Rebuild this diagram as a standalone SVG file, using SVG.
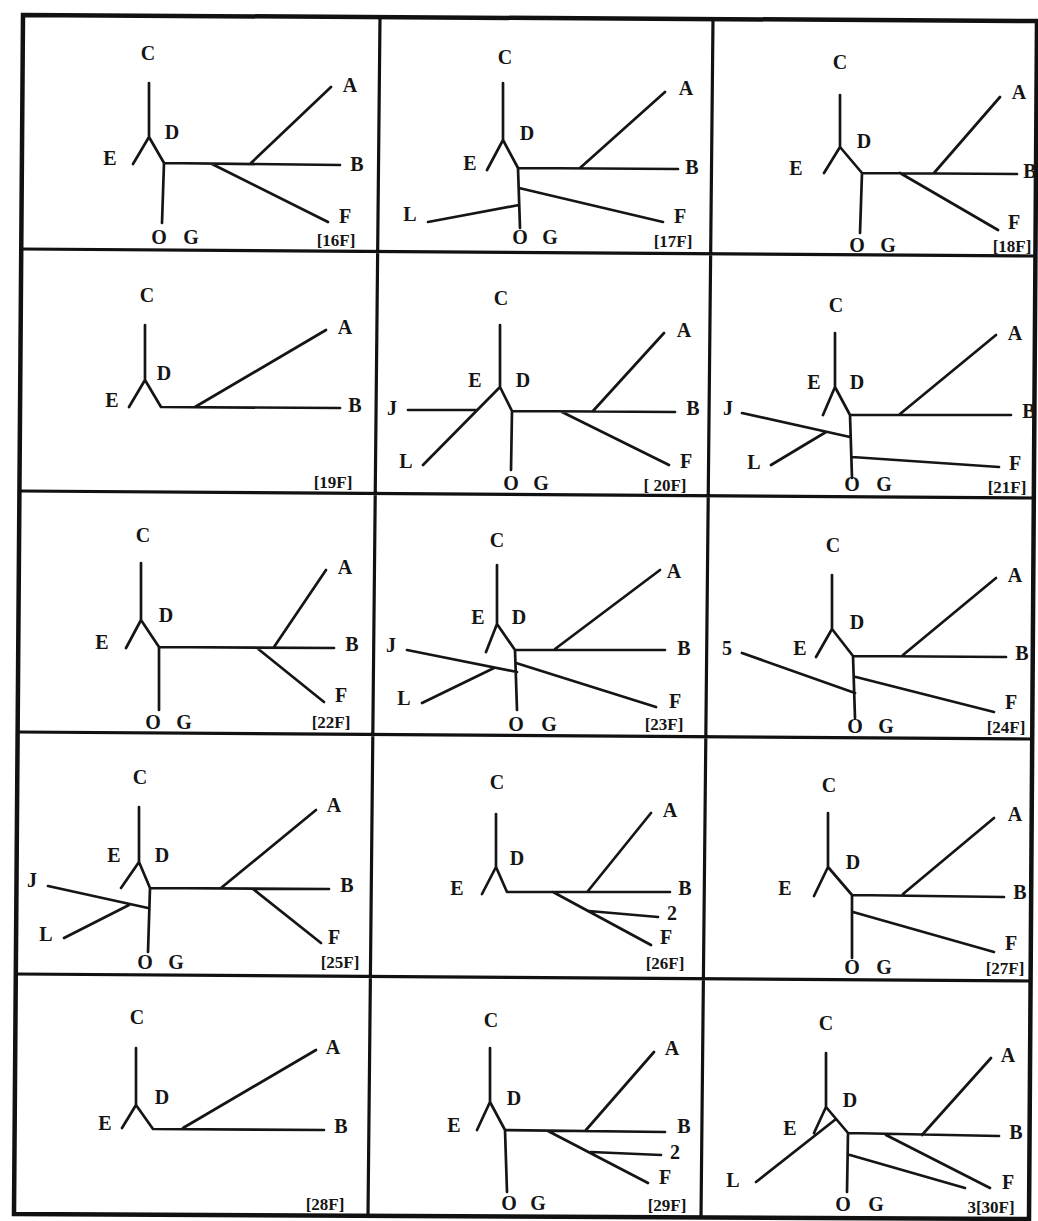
<svg xmlns="http://www.w3.org/2000/svg" width="1038" height="1221" viewBox="0 0 1038 1221">
<style>
.frame{fill:none;stroke:#111;stroke-width:3.2}
.outer{fill:none;stroke:#111;stroke-width:4.5;stroke-linejoin:miter}
.e{fill:none;stroke:#151515;stroke-width:2.7;stroke-linecap:round;stroke-linejoin:round}
text{font-family:"Liberation Serif","Times New Roman",serif;font-weight:bold;font-size:20px;fill:#151515;text-anchor:middle}
.n{font-size:17px}
</style>
<rect width="1038" height="1221" fill="#fff"/>
<g id="grid">
<path class="outer" d="M23,15 L1037,21 L1029,1219 L14,1214 Z"/>
<path class="frame" d="M380,17 L368,1216 M713,19 L701,1218 M22,249 L1036,256 M20,491 L1034,498 M18,732 L1032,739 M16,974 L1031,981"/>
</g>

<!-- 16F -->
<g id="panel16F">
<g id="edges16F"><path class="e" d="M149,83 V137 L133,164 M149,137 L164,163 L340,165 M250,164 L331,87 M212,164 L328,222 M164,163 L162,223"/></g>
<g id="n16C"><text x="148" y="60">C</text></g>
<g id="n16D"><text x="172" y="139">D</text></g>
<g id="n16E"><text x="110" y="165">E</text></g>
<g id="n16A"><text x="350" y="92">A</text></g>
<g id="n16B"><text x="357" y="171">B</text></g>
<g id="n16F"><text x="345" y="223">F</text></g>
<g id="n16O"><text x="159" y="244">O</text></g>
<g id="n16G"><text x="191" y="244">G</text></g>
<g id="l16F"><text class="n" x="336" y="246">[16F]</text></g>
</g>

<!-- 17F -->
<g id="panel17F">
<g id="edges17F"><path class="e" d="M503,83 V140 L487,170 M503,140 L518,168 L678,169 M580,168 L665,92 M518,168 L520,228 M519,188 L663,222 M519,205 L428,222"/></g>
<g id="n17C"><text x="505" y="64">C</text></g>
<g id="n17D"><text x="527" y="140">D</text></g>
<g id="n17E"><text x="470" y="170">E</text></g>
<g id="n17A"><text x="686" y="95">A</text></g>
<g id="n17B"><text x="692" y="174">B</text></g>
<g id="n17F"><text x="680" y="223">F</text></g>
<g id="n17L"><text x="410" y="221">L</text></g>
<g id="n17O"><text x="520" y="244">O</text></g>
<g id="n17G"><text x="550" y="244">G</text></g>
<g id="l17F"><text class="n" x="673" y="247">[17F]</text></g>
</g>

<!-- 18F -->
<g id="panel18F">
<g id="edges18F"><path class="e" d="M840,95 V147 L824,173 M840,147 L862,173 L1017,174 M934,173 L1000,97 M900,173 L998,230 M862,173 L860,233"/></g>
<g id="n18C"><text x="840" y="69">C</text></g>
<g id="n18D"><text x="864" y="148">D</text></g>
<g id="n18E"><text x="796" y="175">E</text></g>
<g id="n18A"><text x="1019" y="99">A</text></g>
<g id="n18B"><text x="1030" y="178">B</text></g>
<g id="n18F"><text x="1014" y="229">F</text></g>
<g id="n18O"><text x="857" y="252">O</text></g>
<g id="n18G"><text x="888" y="252">G</text></g>
<g id="l18F"><text class="n" x="1012" y="252">[18F]</text></g>
</g>

<!-- 19F -->
<g id="panel19F">
<g id="edges19F"><path class="e" d="M145,325 V380 L129,407 M145,380 L161,407 L340,408 M195,407 L326,330"/></g>
<g id="n19C"><text x="147" y="302">C</text></g>
<g id="n19D"><text x="164" y="380">D</text></g>
<g id="n19E"><text x="112" y="407">E</text></g>
<g id="n19A"><text x="345" y="334">A</text></g>
<g id="n19B"><text x="355" y="412">B</text></g>
<g id="l19F"><text class="n" x="333" y="488">[19F]</text></g>
</g>

<!-- 20F -->
<g id="panel20F">
<g id="edges20F"><path class="e" d="M500,325 V387 L423,465 M408,410 L477,410 M500,387 L512,411 L675,412 M593,411 L664,333 M562,412 L669,465 M512,411 L511,470"/></g>
<g id="n20C"><text x="501" y="305">C</text></g>
<g id="n20E"><text x="475" y="387">E</text></g>
<g id="n20D"><text x="523" y="387">D</text></g>
<g id="n20J"><text x="392" y="415">J</text></g>
<g id="n20L"><text x="406" y="468">L</text></g>
<g id="n20A"><text x="684" y="337">A</text></g>
<g id="n20B"><text x="693" y="415">B</text></g>
<g id="n20F"><text x="686" y="468">F</text></g>
<g id="n20O"><text x="511" y="490">O</text></g>
<g id="n20G"><text x="541" y="490">G</text></g>
<g id="l20F"><text class="n" x="665" y="491">[ 20F]</text></g>
</g>

<!-- 21F -->
<g id="panel21F">
<g id="edges21F"><path class="e" d="M835,333 V387 L823,415 M835,387 L850,415 L1011,415 M900,414 L996,335 M850,415 L852,478 M742,413 L850,437 M771,465 L826,432 M852,457 L999,467"/></g>
<g id="n21C"><text x="836" y="312">C</text></g>
<g id="n21E"><text x="814" y="389">E</text></g>
<g id="n21D"><text x="857" y="389">D</text></g>
<g id="n21J"><text x="728" y="415">J</text></g>
<g id="n21L"><text x="754" y="469">L</text></g>
<g id="n21A"><text x="1015" y="340">A</text></g>
<g id="n21B"><text x="1029" y="418">B</text></g>
<g id="n21F"><text x="1015" y="470">F</text></g>
<g id="n21O"><text x="852" y="491">O</text></g>
<g id="n21G"><text x="884" y="491">G</text></g>
<g id="l21F"><text class="n" x="1007" y="493">[21F]</text></g>
</g>

<!-- 22F -->
<g id="panel22F">
<g id="edges22F"><path class="e" d="M141,563 V620 L126,648 M141,620 L159,647 L334,648 M274,647 L326,570 M257,648 L324,702 M159,647 L159,710"/></g>
<g id="n22C"><text x="143" y="542">C</text></g>
<g id="n22D"><text x="166" y="622">D</text></g>
<g id="n22E"><text x="102" y="649">E</text></g>
<g id="n22A"><text x="345" y="574">A</text></g>
<g id="n22B"><text x="352" y="651">B</text></g>
<g id="n22F"><text x="341" y="702">F</text></g>
<g id="n22O"><text x="153" y="729">O</text></g>
<g id="n22G"><text x="184" y="729">G</text></g>
<g id="l22F"><text class="n" x="331" y="728">[22F]</text></g>
</g>

<!-- 23F -->
<g id="panel23F">
<g id="edges23F"><path class="e" d="M497,565 V624 L486,652 M497,624 L515,650 L665,650 M555,649 L660,570 M515,650 L517,710 M407,650 L517,672 M422,703 L494,668 M516,663 L656,707"/></g>
<g id="n23C"><text x="497" y="547">C</text></g>
<g id="n23E"><text x="478" y="624">E</text></g>
<g id="n23D"><text x="519" y="624">D</text></g>
<g id="n23J"><text x="391" y="652">J</text></g>
<g id="n23L"><text x="404" y="705">L</text></g>
<g id="n23A"><text x="674" y="578">A</text></g>
<g id="n23B"><text x="684" y="655">B</text></g>
<g id="n23F"><text x="675" y="708">F</text></g>
<g id="n23O"><text x="516" y="731">O</text></g>
<g id="n23G"><text x="549" y="731">G</text></g>
<g id="l23F"><text class="n" x="664" y="730">[23F]</text></g>
</g>

<!-- 24F -->
<g id="panel24F">
<g id="edges24F"><path class="e" d="M832,575 V629 L816,657 M832,629 L853,656 L1006,657 M903,655 L996,578 M853,656 L855,718 M742,653 L855,693 M856,677 L994,712"/></g>
<g id="n24C"><text x="833" y="552">C</text></g>
<g id="n24D"><text x="857" y="629">D</text></g>
<g id="n24E"><text x="800" y="655">E</text></g>
<g id="n245"><text x="727" y="655">5</text></g>
<g id="n24A"><text x="1015" y="582">A</text></g>
<g id="n24B"><text x="1022" y="660">B</text></g>
<g id="n24F"><text x="1011" y="709">F</text></g>
<g id="n24O"><text x="855" y="733">O</text></g>
<g id="n24G"><text x="886" y="733">G</text></g>
<g id="l24F"><text class="n" x="1006" y="733">[24F]</text></g>
</g>

<!-- 25F -->
<g id="panel25F">
<g id="edges25F"><path class="e" d="M139,807 V862 L121,888 M139,862 L150,888 L329,889 M221,888 L316,810 M253,889 L321,943 M150,888 L148,952 M48,886 L148,908 M64,938 L129,905"/></g>
<g id="n25C"><text x="140" y="784">C</text></g>
<g id="n25E"><text x="114" y="862">E</text></g>
<g id="n25D"><text x="162" y="862">D</text></g>
<g id="n25J"><text x="32" y="887">J</text></g>
<g id="n25L"><text x="46" y="941">L</text></g>
<g id="n25A"><text x="334" y="812">A</text></g>
<g id="n25B"><text x="347" y="892">B</text></g>
<g id="n25F"><text x="334" y="944">F</text></g>
<g id="n25O"><text x="145" y="969">O</text></g>
<g id="n25G"><text x="176" y="969">G</text></g>
<g id="l25F"><text class="n" x="340" y="968">[25F]</text></g>
</g>

<!-- 26F -->
<g id="panel26F">
<g id="edges26F"><path class="e" d="M496,814 V867 L482,894 M496,867 L507,892 L670,892 M588,891 L651,813 M553,892 L651,945 M589,911 L658,917"/></g>
<g id="n26C"><text x="497" y="789">C</text></g>
<g id="n26D"><text x="517" y="865">D</text></g>
<g id="n26E"><text x="457" y="895">E</text></g>
<g id="n26A"><text x="670" y="817">A</text></g>
<g id="n26B"><text x="685" y="895">B</text></g>
<g id="n262"><text x="672" y="920">2</text></g>
<g id="n26F"><text x="666" y="944">F</text></g>
<g id="l26F"><text class="n" x="665" y="969">[26F]</text></g>
</g>

<!-- 27F -->
<g id="panel27F">
<g id="edges27F"><path class="e" d="M828,813 V867 L814,896 M828,867 L852,895 L1004,897 M903,894 L994,818 M852,895 L852,958 M853,912 L994,952"/></g>
<g id="n27C"><text x="829" y="792">C</text></g>
<g id="n27D"><text x="853" y="869">D</text></g>
<g id="n27E"><text x="785" y="895">E</text></g>
<g id="n27A"><text x="1015" y="821">A</text></g>
<g id="n27B"><text x="1020" y="899">B</text></g>
<g id="n27F"><text x="1011" y="950">F</text></g>
<g id="n27O"><text x="852" y="974">O</text></g>
<g id="n27G"><text x="884" y="974">G</text></g>
<g id="l27F"><text class="n" x="1005" y="974">[27F]</text></g>
</g>

<!-- 28F -->
<g id="panel28F">
<g id="edges28F"><path class="e" d="M136,1048 V1105 L122,1128 M136,1105 L153,1129 L324,1130 M183,1128 L316,1050"/></g>
<g id="n28C"><text x="137" y="1024">C</text></g>
<g id="n28D"><text x="162" y="1104">D</text></g>
<g id="n28E"><text x="105" y="1130">E</text></g>
<g id="n28A"><text x="333" y="1054">A</text></g>
<g id="n28B"><text x="341" y="1133">B</text></g>
<g id="l28F"><text class="n" x="325" y="1210">[28F]</text></g>
</g>

<!-- 29F -->
<g id="panel29F">
<g id="edges29F"><path class="e" d="M490,1048 V1102 L477,1130 M490,1102 L505,1130 L665,1132 M586,1130 L654,1052 M548,1131 L648,1183 M591,1152 L661,1155 M505,1130 L507,1192"/></g>
<g id="n29C"><text x="491" y="1027">C</text></g>
<g id="n29D"><text x="514" y="1105">D</text></g>
<g id="n29E"><text x="454" y="1132">E</text></g>
<g id="n29A"><text x="672" y="1055">A</text></g>
<g id="n29B"><text x="684" y="1133">B</text></g>
<g id="n292"><text x="675" y="1159">2</text></g>
<g id="n29F"><text x="665" y="1184">F</text></g>
<g id="n29O"><text x="509" y="1210">O</text></g>
<g id="n29G"><text x="538" y="1210">G</text></g>
<g id="l29F"><text class="n" x="667" y="1211">[29F]</text></g>
</g>

<!-- 30F -->
<g id="panel30F">
<g id="edges30F"><path class="e" d="M826,1053 V1107 L814,1133 M826,1107 L848,1133 L999,1136 M922,1135 L991,1058 M886,1135 L990,1188 M756,1182 L836,1119 M848,1133 L847,1192 M850,1155 L965,1188"/></g>
<g id="n30C"><text x="826" y="1030">C</text></g>
<g id="n30D"><text x="850" y="1107">D</text></g>
<g id="n30E"><text x="790" y="1135">E</text></g>
<g id="n30L"><text x="733" y="1187">L</text></g>
<g id="n30A"><text x="1008" y="1062">A</text></g>
<g id="n30B"><text x="1016" y="1139">B</text></g>
<g id="n30F"><text x="1008" y="1189">F</text></g>
<g id="n30O"><text x="843" y="1211">O</text></g>
<g id="n30G"><text x="876" y="1211">G</text></g>
<g id="l30F"><text class="n" x="991" y="1213">3[30F]</text></g>
</g>
</svg>
